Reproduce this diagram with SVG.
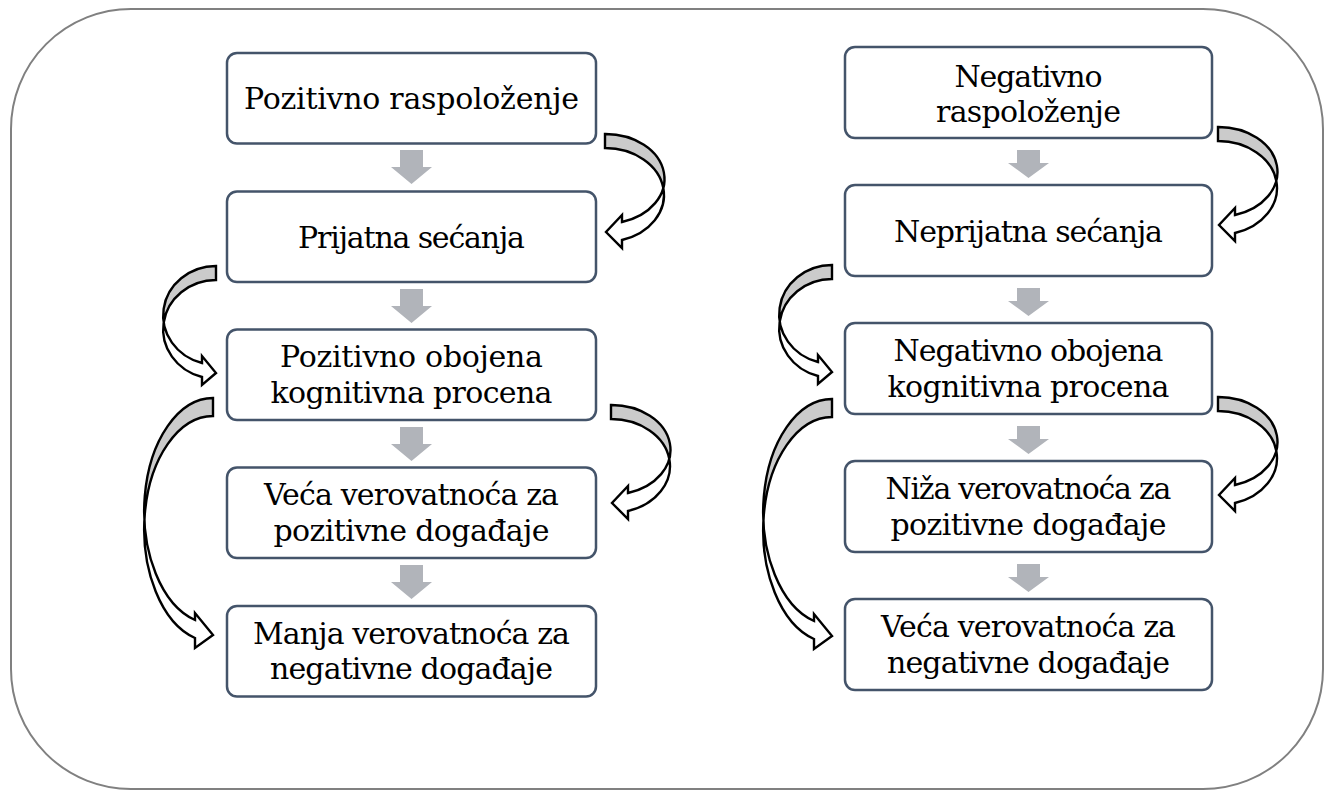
<svg xmlns="http://www.w3.org/2000/svg" width="1325" height="791" viewBox="0 0 1325 791">
<style>
.box{fill:#ffffff;stroke:#44546a;stroke-width:2.5}
.t{font-family:"DejaVu Serif","Liberation Serif",serif;font-size:30px;fill:#000;text-anchor:middle}
.down{fill:#b1b4ba}
.ca{stroke:#000;stroke-width:2.4;stroke-linejoin:miter}
</style>
<defs>
<linearGradient id="gR" gradientUnits="userSpaceOnUse" x1="0" y1="0" x2="0" y2="100">
<stop offset="0.528" stop-color="#cbcbcb"/><stop offset="0.528" stop-color="#ffffff"/>
</linearGradient>
<linearGradient id="gLA" gradientUnits="userSpaceOnUse" x1="0" y1="0" x2="0" y2="100">
<stop offset="0.564" stop-color="#cbcbcb"/><stop offset="0.564" stop-color="#ffffff"/>
</linearGradient>
<linearGradient id="gLB" gradientUnits="userSpaceOnUse" x1="0" y1="0" x2="0" y2="200">
<stop offset="0.61" stop-color="#cbcbcb"/><stop offset="0.61" stop-color="#ffffff"/>
</linearGradient>
<path id="arR" d="M0,0 A59,44.9 0 0 1 17,88 L17,81 L1,98 L17,114 L17,106 A59,47 0 0 0 0,14 Z"/>
<path id="arLA" d="M0,0 A53,49.4 0 0 1 14,97 L14,90 L0,107 L14,119 L14,111 A53,49.4 0 0 0 0,14 Z"/>
<path id="arLB" d="M0,0 A69,113 0 0 1 18,222 L18,215 L0,237 L18,250 L18,240 A69,113 0 0 0 0,18 Z"/>
</defs>
<rect id="frame" x="11" y="9" width="1312" height="780" rx="120" ry="120" fill="none" stroke="#808080" stroke-width="2"/>

<g id="connectors">
<path class="down" d="M400,150 h23 v17 h9 l-20.5,17 l-20.5,-17 h9 Z"/>
<path class="down" d="M400,289 h23 v17 h9 l-20.5,17 l-20.5,-17 h9 Z"/>
<path class="down" d="M400,427 h23 v17 h9 l-20.5,17 l-20.5,-17 h9 Z"/>
<path class="down" d="M400,565 h23 v17 h9 l-20.5,17 l-20.5,-17 h9 Z"/>
<path class="down" d="M1017,150 h23 v13 h9 l-20.5,15 l-20.5,-15 h9 Z"/>
<path class="down" d="M1017,288 h23 v13 h9 l-20.5,15 l-20.5,-15 h9 Z"/>
<path class="down" d="M1017,426 h23 v13 h9 l-20.5,15 l-20.5,-15 h9 Z"/>
<path class="down" d="M1017,564 h23 v13 h9 l-20.5,15 l-20.5,-15 h9 Z"/>
<use href="#arR" class="ca" fill="url(#gR)" transform="translate(605,134)"/>
<use href="#arR" class="ca" fill="url(#gR)" transform="translate(611,405)"/>
<use href="#arLA" class="ca" fill="url(#gLA)" transform="translate(216,266) scale(-1,1)"/>
<use href="#arLB" class="ca" fill="url(#gLB)" transform="translate(213,398) scale(-1,1)"/>
<use href="#arR" class="ca" fill="url(#gR)" transform="translate(1218,127)"/>
<use href="#arR" class="ca" fill="url(#gR)" transform="translate(1218,397)"/>
<use href="#arLA" class="ca" fill="url(#gLA)" transform="translate(832,265) scale(-1,1)"/>
<use href="#arLB" class="ca" fill="url(#gLB)" transform="translate(832,399) scale(-1,1)"/>
</g>

<g id="L1"><rect class="box" x="227" y="53" width="369" height="90.5" rx="10"/>
<text class="t" x="411.5" y="109" textLength="335">Pozitivno raspoloženje</text></g>
<g id="L2"><rect class="box" x="227" y="191.5" width="369" height="90.5" rx="10"/>
<text class="t" x="411.5" y="247.5" textLength="227">Prijatna sećanja</text></g>
<g id="L3"><rect class="box" x="227" y="329.5" width="369" height="90.5" rx="10"/>
<text class="t" x="411.5" y="367" textLength="263">Pozitivno obojena</text>
<text class="t" x="411.5" y="403" textLength="282">kognitivna procena</text></g>
<g id="L4"><rect class="box" x="227" y="467.5" width="369" height="90.5" rx="10"/>
<text class="t" x="411.5" y="505" textLength="295">Veća verovatnoća za</text>
<text class="t" x="411.5" y="541" textLength="276">pozitivne događaje</text></g>
<g id="L5"><rect class="box" x="227" y="606" width="369" height="90.5" rx="10"/>
<text class="t" x="411.5" y="644" textLength="317">Manja verovatnoća za</text>
<text class="t" x="411.5" y="679" textLength="283">negativne događaje</text></g>

<g id="R1"><rect class="box" x="845" y="47" width="367" height="91" rx="10"/>
<text class="t" x="1028.5" y="86.5" textLength="148">Negativno</text>
<text class="t" x="1028.5" y="122" textLength="185">raspoloženje</text></g>
<g id="R2"><rect class="box" x="845" y="185" width="367" height="91" rx="10"/>
<text class="t" x="1028.5" y="242" textLength="269">Neprijatna sećanja</text></g>
<g id="R3"><rect class="box" x="845" y="323" width="367" height="91" rx="10"/>
<text class="t" x="1028.5" y="361" textLength="270">Negativno obojena</text>
<text class="t" x="1028.5" y="397" textLength="282">kognitivna procena</text></g>
<g id="R4"><rect class="box" x="845" y="461" width="367" height="91" rx="10"/>
<text class="t" x="1028.5" y="499" textLength="286">Niža verovatnoća za</text>
<text class="t" x="1028.5" y="535" textLength="276">pozitivne događaje</text></g>
<g id="R5"><rect class="box" x="845" y="599" width="367" height="91" rx="10"/>
<text class="t" x="1028.5" y="637" textLength="295">Veća verovatnoća za</text>
<text class="t" x="1028.5" y="673" textLength="283">negativne događaje</text></g>
</svg>
